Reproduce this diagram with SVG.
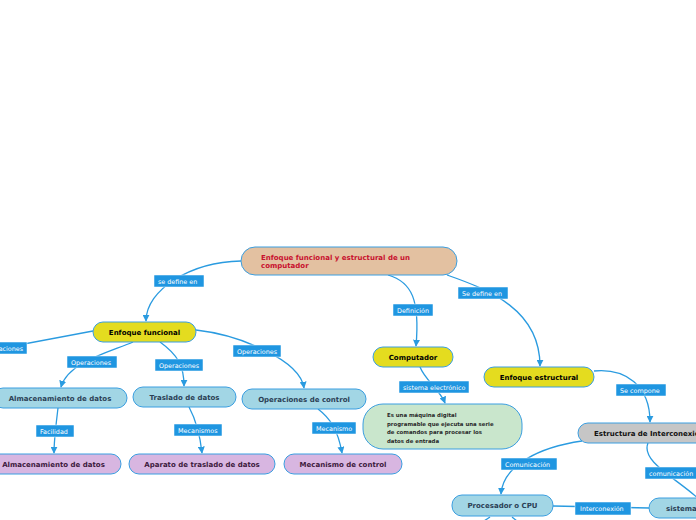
<svg xmlns="http://www.w3.org/2000/svg" width="696" height="520" viewBox="0 0 696 520">
<style>
.c{fill:none;stroke:#2a9be0;stroke-width:1.3}
.n{stroke:#3a9ee0;stroke-width:1}
.t{font-family:"DejaVu Sans",Verdana,sans-serif;font-weight:bold;font-size:7px;text-anchor:middle}
.lb{fill:#1f96e1;stroke:#ffffff;stroke-width:0.5}
.lt{font-family:"DejaVu Sans",Verdana,sans-serif;font-size:6.4px;fill:#ffffff}
.root{fill:#e3c1a1}
.yel{fill:#e4dc1f}
.blu{fill:#a2d6e5}
.pur{fill:#d8b6e1}
.gry{fill:#c6c6c6}
.grn{fill:#c9e6cc}
.dk{fill:#2b3f55}
.pk{fill:#3d1a3d}
</style>
<defs>
<marker id="a" viewBox="0 0 10 10" refX="9" refY="5" markerWidth="7" markerHeight="7" markerUnits="userSpaceOnUse" orient="auto">
<path d="M0,0 L10,5 L0,10 z" fill="#2a9be0"/>
</marker>
</defs>
<rect width="696" height="520" fill="#ffffff"/>
<g id="connectors">
<path class="c" d="M241,261 C190,262 146,290 146,321" marker-end="url(#a)"/>
<path class="c" d="M93,331 L-40,356"/>
<path class="c" d="M133,342 C110,352 68,362 61,387" marker-end="url(#a)"/>
<path class="c" d="M160,342 C178,355 184,366 184,386" marker-end="url(#a)"/>
<path class="c" d="M196,330 C240,335 300,360 304,388" marker-end="url(#a)"/>
<path class="c" d="M388,275 C412,282 420,300 416,346" marker-end="url(#a)"/>
<path class="c" d="M447,275 C490,290 540,310 540,366" marker-end="url(#a)"/>
<path class="c" d="M420,367 C425,380 440,390 445,403" marker-end="url(#a)"/>
<path class="c" d="M594,371 C625,368 650,385 650,422" marker-end="url(#a)"/>
<path class="c" d="M582,441 C540,447 503,465 501,494" marker-end="url(#a)"/>
<path class="c" d="M648,443 C640,462 680,480 702,502"/>
<path class="c" d="M553,506 L649,508"/>
<path class="c" d="M490,517 L478,525"/>
<path class="c" d="M512,517 L522,525"/>
<path class="c" d="M58,408 C56,425 54,440 54,453" marker-end="url(#a)"/>
<path class="c" d="M189,407 C196,420 200,435 202,453" marker-end="url(#a)"/>
<path class="c" d="M318,409 C330,418 338,430 342,453" marker-end="url(#a)"/>
</g>
<g id="labels">
<rect class="lb" x="154" y="275" width="50" height="12"/><text class="lt" x="158" y="283.8">se define en</text>
<rect class="lb" x="-21" y="342" width="48" height="12"/><text class="lt" x="-17" y="350.8">Operaciones</text>
<rect class="lb" x="67" y="356" width="50" height="12"/><text class="lt" x="71" y="364.8">Operaciones</text>
<rect class="lb" x="155" y="359" width="48" height="12"/><text class="lt" x="159" y="367.8">Operaciones</text>
<rect class="lb" x="233" y="345" width="48" height="12"/><text class="lt" x="237" y="353.8">Operaciones</text>
<rect class="lb" x="393" y="304" width="40" height="12"/><text class="lt" x="397" y="312.8">Definición</text>
<rect class="lb" x="458" y="287" width="50" height="12"/><text class="lt" x="462" y="295.8">Se define en</text>
<rect class="lb" x="399" y="381" width="70" height="12"/><text class="lt" x="403" y="389.8">sistema electrónico</text>
<rect class="lb" x="616" y="384" width="50" height="12"/><text class="lt" x="620" y="392.8">Se compone</text>
<rect class="lb" x="36" y="425" width="38" height="12"/><text class="lt" x="40" y="433.8">Facilidad</text>
<rect class="lb" x="174" y="424" width="48" height="12"/><text class="lt" x="178" y="432.8">Mecanismos</text>
<rect class="lb" x="312" y="422" width="44" height="12"/><text class="lt" x="316" y="430.8">Mecanismo</text>
<rect class="lb" x="501" y="458" width="56" height="12"/><text class="lt" x="505" y="466.8">Comunicación</text>
<rect class="lb" x="645" y="467" width="53" height="12"/><text class="lt" x="649" y="475.8">comunicación</text>
<rect class="lb" x="575" y="502" width="56" height="13"/><text class="lt" x="580" y="511.3">Interconexión</text>
</g>
<g id="root">
<rect class="n root" x="241" y="247" width="216" height="28" rx="14"/>
<text class="t" x="261" y="259.5" style="text-anchor:start;fill:#c8102e">Enfoque funcional y estructural de un</text>
<text class="t" x="261" y="267.5" style="text-anchor:start;fill:#c8102e">computador</text>
</g>
<g id="enfoque-funcional">
<rect class="n yel" x="93" y="322" width="103" height="20" rx="10"/>
<text class="t" x="144.5" y="334.5">Enfoque funcional</text>
</g>
<g id="computador">
<rect class="n yel" x="373" y="347" width="80" height="20" rx="10"/>
<text class="t" x="413" y="359.5">Computador</text>
</g>
<g id="enfoque-estructural">
<rect class="n yel" x="484" y="367" width="110" height="20" rx="10"/>
<text class="t" x="539" y="379.5">Enfoque estructural</text>
</g>
<g id="definicion-computador">
<rect class="n grn" x="363" y="404" width="159" height="45" rx="20"/>
<text class="t" x="387" y="417" style="text-anchor:start;font-size:5.4px;fill:#2a2a2a">Es una máquina digital</text>
<text class="t" x="387" y="425.5" style="text-anchor:start;font-size:5.4px;fill:#2a2a2a">programable que ejecuta una serie</text>
<text class="t" x="387" y="434" style="text-anchor:start;font-size:5.4px;fill:#2a2a2a">de comandos para procesar los</text>
<text class="t" x="387" y="442.5" style="text-anchor:start;font-size:5.4px;fill:#2a2a2a">datos de entrada</text>
</g>
<g id="estructura-interconexion">
<rect class="n gry" x="578" y="423" width="140" height="20" rx="10"/>
<text class="t" x="594" y="435.5" style="text-anchor:start;fill:#111111">Estructura de Interconexión</text>
</g>
<g id="almacenamiento">
<rect class="n blu" x="-7" y="388" width="134" height="20" rx="10"/>
<text class="t dk" x="60" y="400.5">Almacenamiento de datos</text>
</g>
<g id="traslado">
<rect class="n blu" x="133" y="387" width="103" height="20" rx="10"/>
<text class="t dk" x="184.5" y="399.5">Traslado de datos</text>
</g>
<g id="operaciones-control">
<rect class="n blu" x="242" y="389" width="124" height="20" rx="10"/>
<text class="t dk" x="304" y="401.5">Operaciones de control</text>
</g>
<g id="almacenamiento-2">
<rect class="n pur" x="-14" y="454" width="135" height="20" rx="10"/>
<text class="t pk" x="53.5" y="466.5">Almacenamiento de datos</text>
</g>
<g id="aparato-traslado">
<rect class="n pur" x="129" y="454" width="146" height="20" rx="10"/>
<text class="t pk" x="202" y="466.5">Aparato de traslado de datos</text>
</g>
<g id="mecanismo-control">
<rect class="n pur" x="284" y="454" width="118" height="20" rx="10"/>
<text class="t pk" x="343" y="466.5">Mecanismo de control</text>
</g>
<g id="procesador">
<rect class="n blu" x="452" y="495" width="101" height="21" rx="10"/>
<text class="t dk" x="502.5" y="508">Procesador o CPU</text>
</g>
<g id="sistema">
<rect class="n blu" x="649" y="498" width="80" height="20" rx="10"/>
<text class="t dk" x="666" y="510.5" style="text-anchor:start">sistema</text>
</g>
</svg>
